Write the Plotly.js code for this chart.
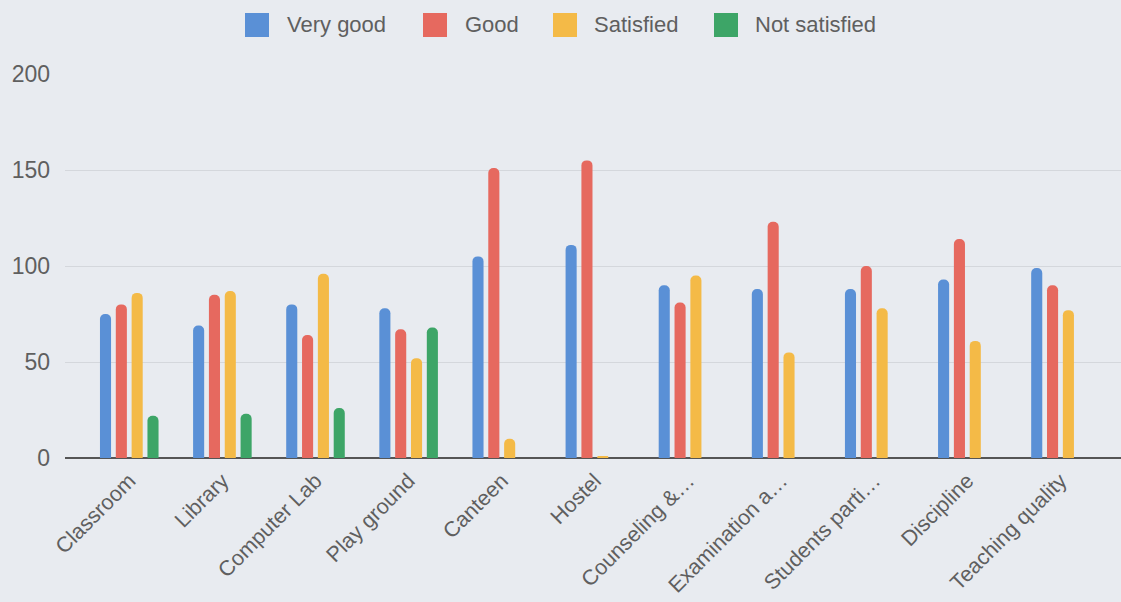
<!DOCTYPE html>
<html>
<head>
<meta charset="utf-8">
<script src="https://cdn.plot.ly/plotly-3.0.1.min.js"></script>
<style>html,body{margin:0;padding:0;background:#e8ebf0;}#chart{width:1121px;height:602px;}</style>
</head>
<body>
<div id="chart"></div>
<script>
const categories = ["Classroom", "Library", "Computer Lab", "Play ground", "Canteen", "Hostel",
  "Counseling &…", "Examination a…", "Students parti…", "Discipline", "Teaching quality"];
const veryGood     = [75, 69, 80, 78, 105, 111, 90, 88, 88, 93, 99];
const good         = [80, 85, 64, 67, 151, 155, 81, 123, 100, 114, 90];
const satisfied    = [86, 87, 96, 52, 10, 1, 95, 55, 78, 61, 77];
const notSatisfied = [22, 23, 26, 68, 0, 0, 0, 0, 0, 0, 0];
const yTicks = [0, 50, 100, 150, 200];

const seriesNames = ["Very good", "Good", "Satisfied", "Not satisfied"];
const seriesValues = [veryGood, good, satisfied, notSatisfied];
const seriesColors = ["#5a90d6", "#e6695f", "#f4ba47", "#3da567"];

const traces = seriesNames.map((name, i) => ({
  type: "bar",
  name: name,
  x: categories,
  y: seriesValues[i],
  marker: { color: seriesColors[i] },
  hoverinfo: "x+y+name",
  showlegend: false
}));

// Legend (pixel layout converted to paper coordinates)
const W = 1121, H = 602, ML = 65, MR = 0, MT = 74, MB = 144;
const PW = W - ML - MR, PH = H - MT - MB;
const px = v => (v - ML) / PW;
const py = v => (H - MB - v) / PH;
const legendSquareX = [245, 423, 553, 714];
const legendTextX = [285, 463, 592, 753];
const shapes = [], annotations = [];
seriesNames.forEach((name, i) => {
  shapes.push({
    type: "rect", xref: "paper", yref: "paper",
    x0: px(legendSquareX[i]), x1: px(legendSquareX[i] + 24),
    y0: py(37), y1: py(13),
    fillcolor: seriesColors[i], line: { width: 0 }
  });
  annotations.push({
    xref: "paper", yref: "paper",
    x: px(legendTextX[i]), y: py(25),
    xanchor: "left", yanchor: "middle",
    text: name, showarrow: false,
    font: { size: 22, color: "#5f5f5f" }
  });
});

const layout = {
  width: W,
  height: H,
  paper_bgcolor: "#e8ebf0",
  plot_bgcolor: "#e8ebf0",
  margin: { l: ML, r: MR, t: MT, b: MB },
  barmode: "group",
  bargap: 0.32,
  bargroupgap: 0.3,
  barcornerradius: 5,
  font: { family: "Liberation Sans, Arial, sans-serif", color: "#5f5f5f", size: 22 },
  showlegend: false,
  shapes: shapes,
  annotations: annotations,
  xaxis: {
    type: "category",
    range: [-0.69, 10.65],
    tickangle: -45,
    showgrid: false,
    showline: false,
    ticks: "",
    ticklabelstandoff: 5,
    tickfont: { size: 21.5, color: "#5f5f5f" },
    fixedrange: true
  },
  yaxis: {
    range: [0, 200],
    tickvals: yTicks,
    ticktext: yTicks.map(String),
    showgrid: true,
    gridcolor: "#d4d7dc",
    gridwidth: 1,
    zeroline: true,
    zerolinecolor: "#555555",
    zerolinewidth: 1.5,
    showline: false,
    ticks: "",
    ticklabelstandoff: 14,
    tickfont: { size: 23, color: "#5f5f5f" },
    fixedrange: true
  }
};

Plotly.newPlot("chart", traces, layout, { displayModeBar: false, staticPlot: true });
</script>
</body>
</html>
